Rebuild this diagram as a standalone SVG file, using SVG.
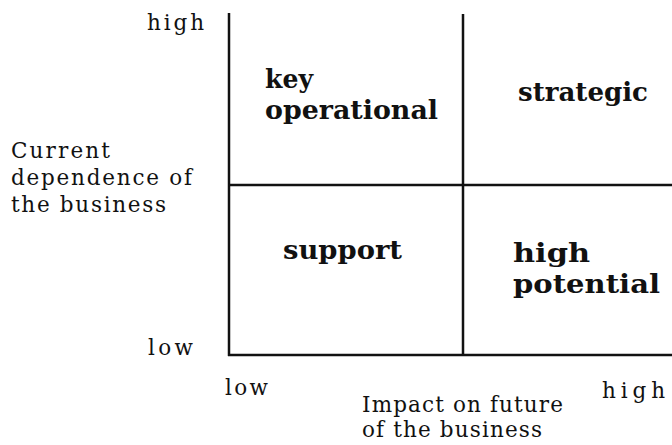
<svg xmlns="http://www.w3.org/2000/svg" width="672" height="445" viewBox="0 0 672 445">
<style>
.ax{font-family:"DejaVu Serif","Liberation Serif",serif;font-size:21.5px;fill:#111}
.q{font-family:"DejaVu Serif","Liberation Serif",serif;font-size:26px;font-weight:bold;fill:#111}
.ln{stroke:#111;stroke-width:2.5;fill:none}
</style>
<rect width="672" height="445" fill="#fff"/>
<g id="grid">
<line class="ln" x1="229" y1="13" x2="229" y2="356"/>
<line class="ln" x1="463" y1="14" x2="463" y2="355"/>
<line class="ln" x1="228" y1="185" x2="672" y2="185"/>
<line class="ln" x1="228" y1="355" x2="672" y2="355"/>
</g>
<g id="y-axis">
<text class="ax" x="147" y="30" textLength="57" lengthAdjust="spacing">high</text>
<text class="ax" x="11" y="158" textLength="99" lengthAdjust="spacing">Current</text>
<text class="ax" x="11" y="185" textLength="181" lengthAdjust="spacing">dependence of</text>
<text class="ax" x="11" y="212" textLength="155" lengthAdjust="spacing">the business</text>
<text class="ax" x="148" y="355" textLength="45" lengthAdjust="spacing">low</text>
</g>
<g id="x-axis">
<text class="ax" x="225" y="395" textLength="43" lengthAdjust="spacing">low</text>
<text class="ax" x="362" y="412" textLength="201" lengthAdjust="spacing">Impact on future</text>
<text class="ax" x="362" y="437" textLength="180" lengthAdjust="spacing">of the business</text>
<text class="ax" x="602" y="398" textLength="63" lengthAdjust="spacing">high</text>
</g>
<g id="key-operational">
<text class="q" x="265" y="88" textLength="48" lengthAdjust="spacingAndGlyphs">key</text>
<text class="q" x="265" y="119" textLength="173" lengthAdjust="spacingAndGlyphs">operational</text>
</g>
<g id="strategic">
<text class="q" x="518" y="101" textLength="130" lengthAdjust="spacingAndGlyphs">strategic</text>
</g>
<g id="support">
<text class="q" x="283" y="259" textLength="119" lengthAdjust="spacingAndGlyphs">support</text>
</g>
<g id="high-potential">
<text class="q" x="513" y="262" textLength="77" lengthAdjust="spacingAndGlyphs">high</text>
<text class="q" x="513" y="293" textLength="147" lengthAdjust="spacingAndGlyphs">potential</text>
</g>
<g id="connectors"></g>
</svg>
